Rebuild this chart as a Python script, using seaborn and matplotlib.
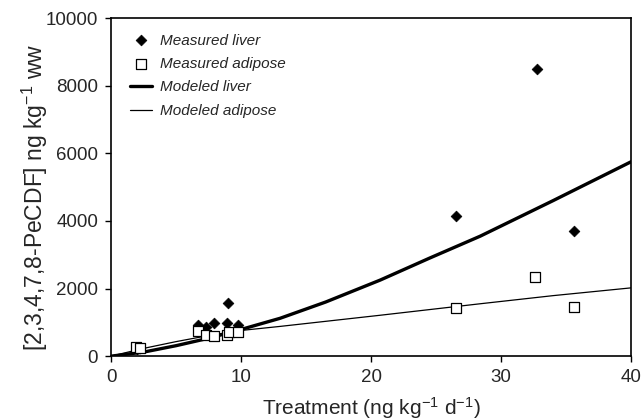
import numpy as np
import pandas as pd
import seaborn as sns
import matplotlib
matplotlib.use("Agg")
import matplotlib.pyplot as plt

liver_x = [2.0, 2.2, 6.7, 7.3, 7.9, 8.9, 9.0, 9.8, 26.5, 32.8, 35.6]
liver_y = [200, 250, 935, 850, 985, 985, 1580, 935, 4150, 8500, 3700]
adipose_x = [1.9, 2.2, 6.65, 7.3, 7.9, 8.9, 9.1, 9.8, 26.5, 32.6, 35.6]
adipose_y = [280, 240, 750, 640, 590, 620, 720, 720, 1410, 2350, 1450]

# model curves
liver_mx = [0, 2.5, 5, 7.5, 10, 13, 16.5, 20.7, 24.5, 28.4, 34, 40]
liver_my = [0, 120, 310, 530, 790, 1120, 1600, 2250, 2900, 3550, 4600, 5750]
adipose_mx = [0, 2.5, 5, 7.5, 10, 13, 20.7, 28.4, 34, 40]
adipose_my = [0, 230, 430, 610, 760, 880, 1210, 1550, 1790, 2020]

sns.set_style("ticks")
plt.rcParams["font.family"] = ["Liberation Sans", "DejaVu Sans"]
plt.rcParams["mathtext.fontset"] = "custom"
plt.rcParams["mathtext.rm"] = "Liberation Sans"
plt.rcParams["mathtext.it"] = "Liberation Sans:italic"

fig = plt.figure(figsize=(6.42, 4.2), dpi=100)
ax = fig.add_axes([0.173, 0.152, 0.81, 0.805])

liver = pd.DataFrame({"x": liver_x, "y": liver_y})
adipose = pd.DataFrame({"x": adipose_x, "y": adipose_y})
mod_liver = pd.DataFrame({"x": liver_mx, "y": liver_my})
mod_adipose = pd.DataFrame({"x": adipose_mx, "y": adipose_my})

sns.scatterplot(data=liver, x="x", y="y", marker="D", s=30, color="black",
                edgecolor="black", linewidth=0.5, label="Measured liver", ax=ax, zorder=3)
sns.scatterplot(data=adipose, x="x", y="y", marker="s", s=50, facecolor="white",
                edgecolor="black", linewidth=0.9, label="Measured adipose", ax=ax, zorder=3)
sns.lineplot(data=mod_liver, x="x", y="y", color="black", linewidth=2.4,
             label="Modeled liver", ax=ax, zorder=2)
sns.lineplot(data=mod_adipose, x="x", y="y", color="black", linewidth=0.9,
             label="Modeled adipose", ax=ax, zorder=2)

ax.set_xlim(0, 40)
ax.set_ylim(0, 10000)
ax.set_xticks([0, 10, 20, 30, 40])
ax.set_yticks([0, 2000, 4000, 6000, 8000, 10000])
ax.tick_params(labelsize=13.5, length=4.3, width=1, color="black", pad=5)
ax.set_xlabel(r"Treatment (ng kg$^{-1}$ d$^{-1}$)", fontsize=15, va="top")
ax.set_ylabel(r"[2,3,4,7,8-PeCDF] ng kg$^{-1}$ ww", fontsize=16.5)
ax.xaxis.set_label_coords(0.5, -0.115)
ax.yaxis.set_label_coords(-0.117, 0.47)
for sp in ax.spines.values():
    sp.set_linewidth(1.2)
    sp.set_color("black")

ax.legend(loc="upper left", frameon=False, prop={"style": "italic", "size": 11},
          handlelength=1.45, handletextpad=0.5, labelspacing=0.62,
          bbox_to_anchor=(0.01, 0.995))

fig.savefig("out.png", dpi=100)
